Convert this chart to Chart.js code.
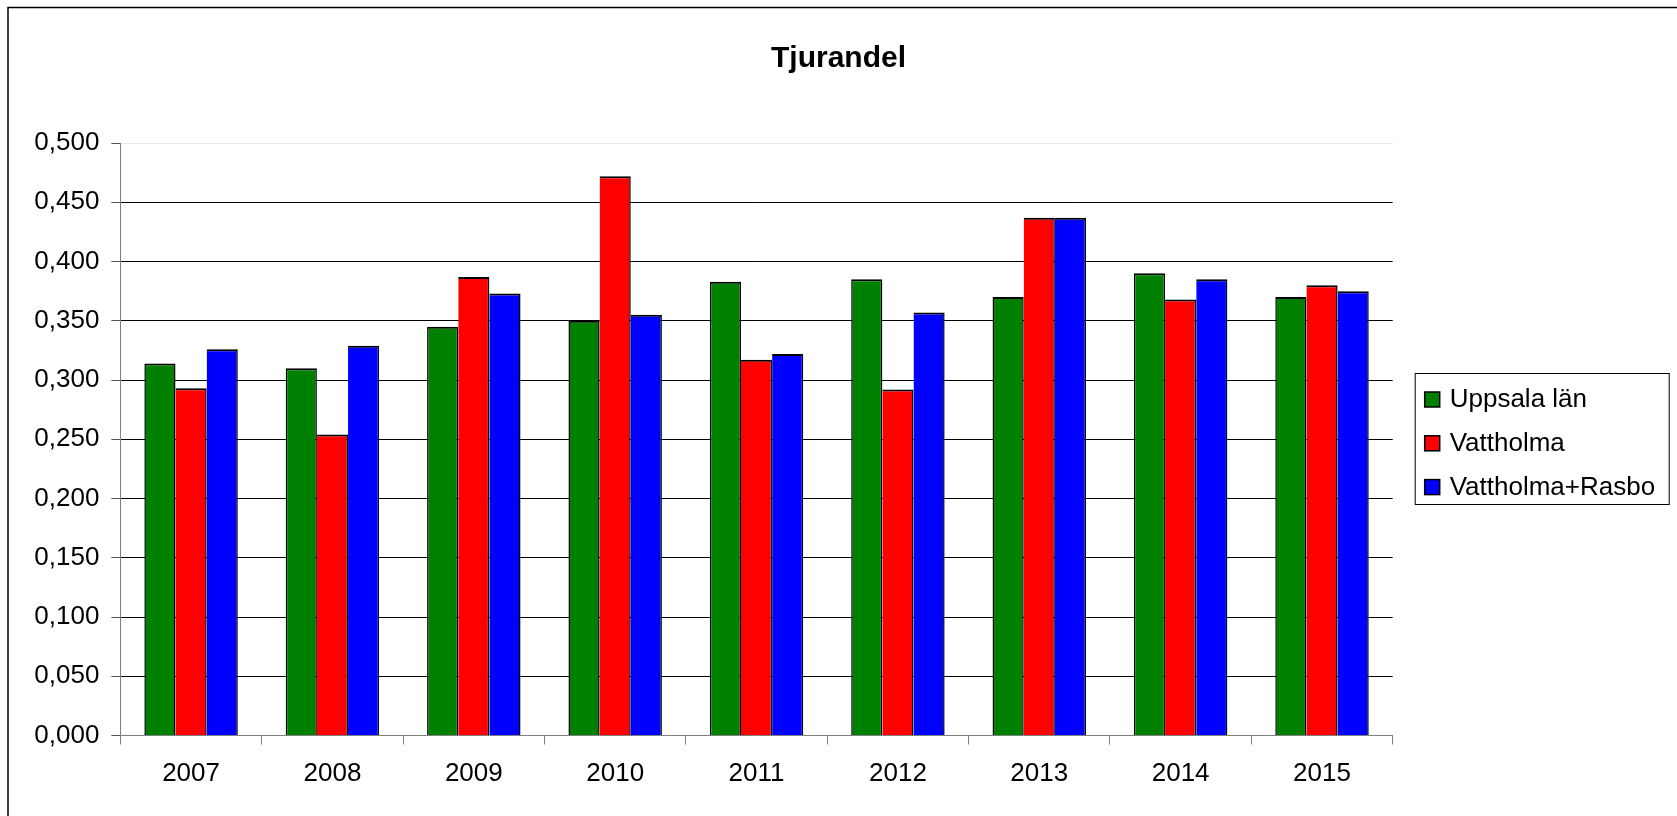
<!DOCTYPE html>
<html>
<head>
<meta charset="utf-8">
<script src="https://cdn.jsdelivr.net/npm/chart.js@4.4.0/dist/chart.umd.min.js"></script>
<style>
  body { margin: 0; background: #fff; }
  #wrap { width: 1677px; height: 816px; }
</style>
</head>
<body>
<div id="wrap"><canvas id="chart" width="1677" height="816"></canvas></div>
<script>
const years = ['2007', '2008', '2009', '2010', '2011', '2012', '2013', '2014', '2015'];
const uppsala = [0.314, 0.310, 0.345, 0.350, 0.383, 0.385, 0.370, 0.390, 0.370];
const vattholma = [0.293, 0.254, 0.387, 0.472, 0.317, 0.292, 0.437, 0.368, 0.380];
const vattholmaRasbo = [0.326, 0.329, 0.373, 0.355, 0.322, 0.357, 0.437, 0.385, 0.375];
const yTicks = [0, 0.05, 0.1, 0.15, 0.2, 0.25, 0.3, 0.35, 0.4, 0.45, 0.5];

const FONT = '"Liberation Sans", Arial, sans-serif';
const ctx = document.getElementById('chart').getContext('2d');

// outer frame of the chart image (runs off right/bottom edge)
const framePlugin = {
  id: 'frame',
  beforeDraw(chart) {
    const c = chart.ctx;
    c.save();
    c.fillStyle = '#fff';
    c.fillRect(0, 0, chart.width, chart.height);
    c.strokeStyle = '#000';
    c.lineWidth = 1.5;
    c.strokeRect(8, 7.5, chart.width + 20, chart.height + 20);
    c.restore();
  }
};

// boxed legend on the right, built from the datasets
const boxLegend = {
  id: 'boxLegend',
  afterDraw(chart) {
    const c = chart.ctx;
    const left = chart.chartArea.right + 22;
    const top = 373;
    c.save();
    c.strokeStyle = '#000';
    c.lineWidth = 1;
    c.strokeRect(left + 0.5, top + 0.5, 254, 131);
    c.font = '26px ' + FONT;
    c.textBaseline = 'middle';
    chart.data.datasets.forEach((ds, i) => {
      const cy = 399 + i * 43.8;
      c.fillStyle = ds.backgroundColor;
      c.fillRect(left + 10, cy - 7, 15, 15);
      c.strokeStyle = '#000';
      c.lineWidth = 1.5;
      c.strokeRect(left + 10, cy - 7, 15, 15);
      c.fillStyle = '#000';
      c.fillText(ds.label, left + 35, cy + 1);
    });
    c.restore();
  }
};

new Chart(ctx, {
  type: 'bar',
  data: {
    labels: years,
    datasets: [
      { label: 'Uppsala län', data: uppsala, backgroundColor: '#008000',
        borderColor: '#000', borderWidth: { top: 2, left: 1.5, right: 1.5, bottom: 0 } },
      { label: 'Vattholma', data: vattholma, backgroundColor: '#ff0000',
        borderColor: '#000', borderWidth: { top: 2, left: 0, right: 1.5, bottom: 0 } },
      { label: 'Vattholma+Rasbo', data: vattholmaRasbo, backgroundColor: '#0000ff',
        borderColor: '#000', borderWidth: { top: 2, left: 0, right: 1.5, bottom: 0 } }
    ]
  },
  options: {
    responsive: false,
    animation: false,
    layout: { padding: 0 },
    datasets: { bar: { categoryPercentage: 0.661, barPercentage: 1.0, borderSkipped: false } },
    scales: {
      x: {
        grid: { offset: true, drawOnChartArea: false, tickLength: 9, color: '#808080' },
        border: { color: '#808080', width: 1 },
        ticks: { color: '#000', font: { family: FONT, size: 26 }, padding: 14, maxRotation: 0 },
        afterFit(scale) { scale.height = 80.5; }
      },
      y: {
        min: 0,
        max: 0.5,
        afterBuildTicks(scale) { scale.ticks = yTicks.map(v => ({ value: v })); },
        grid: {
          tickLength: 9,
          color: c => c.tick && Math.abs(c.tick.value - 0.5) < 1e-9 ? '#e8e8e8'
            : (c.tick && c.tick.value === 0 ? 'rgba(0,0,0,0)' : '#000'),
          tickColor: '#555'
        },
        border: { color: '#808080', width: 1 },
        ticks: {
          color: '#000',
          font: { family: FONT, size: 26 },
          padding: 12,
          callback: v => Number(v).toFixed(3).replace('.', ',')
        },
        afterFit(scale) { scale.width = 120.4; }
      },
      // empty right-hand axis that only keeps room for the legend box
      legendSpace: {
        position: 'right',
        grid: { display: false },
        border: { display: false },
        ticks: { display: false },
        afterFit(scale) { scale.width = 284.3; }
      }
    },
    plugins: {
      legend: { display: false },
      tooltip: { enabled: false },
      title: {
        display: true,
        text: 'Tjurandel',
        color: '#000',
        font: { family: FONT, size: 30, weight: 'bold' },
        padding: { top: 41, bottom: 66 }
      }
    }
  },
  plugins: [framePlugin, boxLegend]
});
</script>
</body>
</html>
